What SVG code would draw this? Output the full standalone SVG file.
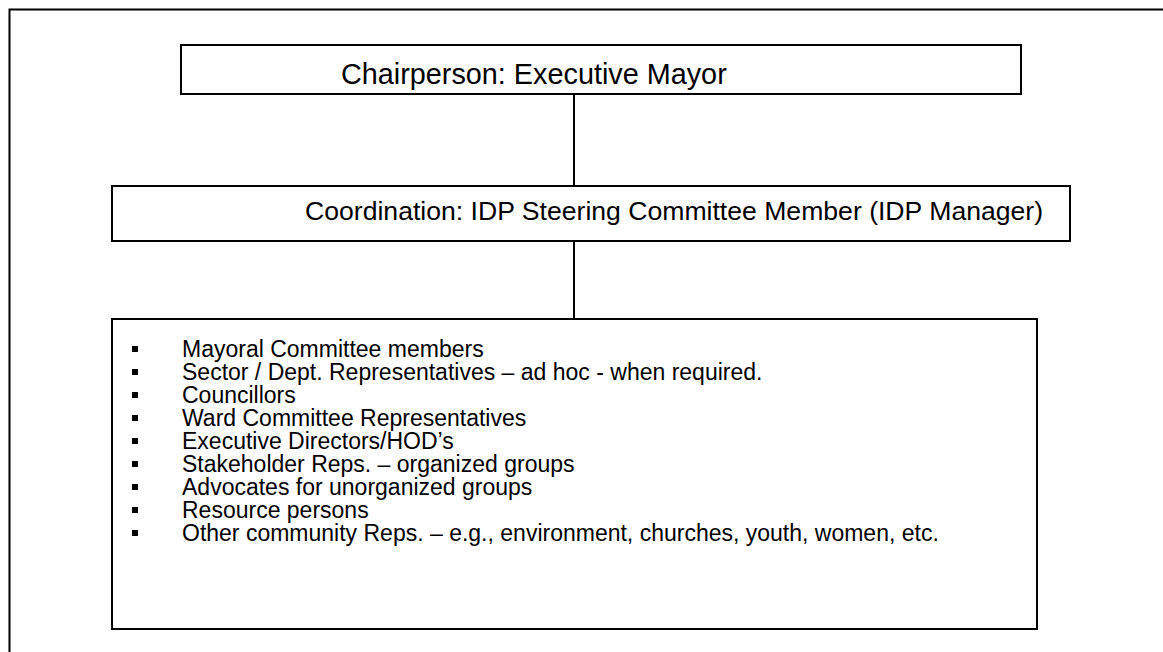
<svg xmlns="http://www.w3.org/2000/svg" width="1163" height="652" viewBox="0 0 1163 652">
<style>
.box{fill:#fff;stroke:#000;stroke-width:2}
.t{font-family:"Liberation Sans",Arial,sans-serif;fill:#000}
.li{font-family:"Liberation Sans",Arial,sans-serif;fill:#000;font-size:23px}
.conn{stroke:#000;stroke-width:2;fill:none}
</style>
<rect width="1163" height="652" fill="#fff"/>
<rect id="frame" x="9.5" y="9.5" width="1200" height="700" fill="none" stroke="#000" stroke-width="2"/>
<g id="connectors">
<line class="conn" x1="574" y1="94" x2="574" y2="186"/>
<line class="conn" x1="574" y1="241" x2="574" y2="319"/>
</g>
<g id="chair">
<rect class="box" x="181" y="45" width="840" height="49"/>
<text class="t" x="341" y="84" font-size="28.8">Chairperson: Executive Mayor</text>
</g>
<g id="coord">
<rect class="box" x="112" y="186" width="958" height="55"/>
<text class="t" x="305" y="220" font-size="26.6">Coordination: IDP Steering Committee Member (IDP Manager)</text>
</g>
<g id="members">
<rect class="box" x="112" y="319" width="925" height="310"/>
<g fill="#000">
<rect x="132" y="346" width="6" height="6"/>
<rect x="132" y="369" width="6" height="6"/>
<rect x="132" y="392" width="6" height="6"/>
<rect x="132" y="415" width="6" height="6"/>
<rect x="132" y="438" width="6" height="6"/>
<rect x="132" y="461" width="6" height="6"/>
<rect x="132" y="484" width="6" height="6"/>
<rect x="132" y="507" width="6" height="6"/>
<rect x="132" y="530" width="6" height="6"/>
</g>
<text class="li" x="182" y="357">Mayoral Committee members</text>
<text class="li" x="182" y="380">Sector / Dept. Representatives – ad hoc - when required.</text>
<text class="li" x="182" y="403">Councillors</text>
<text class="li" x="182" y="426">Ward Committee Representatives</text>
<text class="li" x="182" y="449">Executive Directors/HOD’s</text>
<text class="li" x="182" y="472">Stakeholder Reps. – organized groups</text>
<text class="li" x="182" y="495">Advocates for unorganized groups</text>
<text class="li" x="182" y="518">Resource persons</text>
<text class="li" x="182" y="541">Other community Reps. – e.g., environment, churches, youth, women, etc.</text>
</g>
</svg>
